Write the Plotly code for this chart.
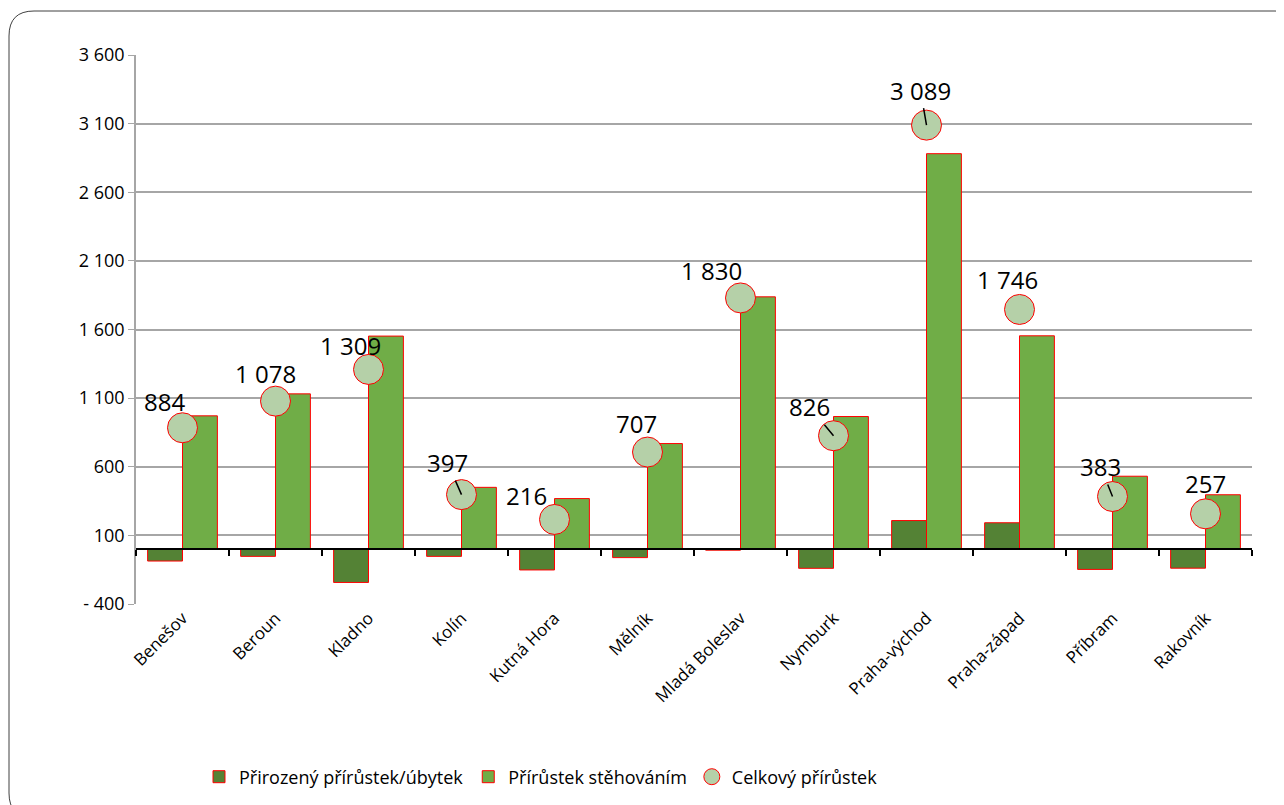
import plotly.graph_objects as go

# districts of Středočeský kraj
districts = ['Benešov', 'Beroun', 'Kladno', 'Kolín', 'Kutná Hora', 'Mělník',
             'Mladá Boleslav', 'Nymburk', 'Praha-východ', 'Praha-západ', 'Příbram', 'Rakovník']
natural = [-87, -53, -243, -53, -152, -62, -8, -140, 208, 192, -148, -139]
migration = [971, 1131, 1552, 450, 368, 769, 1838, 966, 2881, 1554, 531, 396]
total = [884, 1078, 1309, 397, 216, 707, 1830, 826, 3089, 1746, 383, 257]

y_ticks = [-400, 100, 600, 1100, 1600, 2100, 2600, 3100, 3600]
y_ticktext = ['- 400', '100', '600', '1 100', '1 600', '2 100', '2 600', '3 100', '3 600']

# label offsets (px) and which labels have a leader line
label_dx = [-18, -10, -18, -14, -28, -11, -29, -24, -6, -12, -12, 0]
label_dy = [-26, -28, -24, -32, -24, -29, -27, -29, -35, -30, -30, -30]
leader = [False, False, False, True, False, False, False, True, True, False, True, False]

FONT = 'Open Sans'
ymin, ymax = -400, 3600

fig = go.Figure()
fig.add_trace(go.Bar(x=districts, y=natural, name='Přirozený přírůstek/úbytek',
                     marker=dict(color='#548235', line=dict(color='#FF0000', width=1))))
fig.add_trace(go.Bar(x=districts, y=migration, name='Přírůstek stěhováním',
                     marker=dict(color='#70AD47', line=dict(color='#FF0000', width=1))))
fig.add_trace(go.Scatter(x=districts, y=total, name='Celkový přírůstek', mode='markers',
                         marker=dict(size=30, color='#B5D0A8', line=dict(color='#FF0000', width=1))))
# helper trace for the category axis drawn at zero
fig.add_trace(go.Scatter(x=districts, y=[0] * len(districts), xaxis='x2', mode='markers',
                         marker=dict(opacity=0), showlegend=False, hoverinfo='skip'))

for i, d in enumerate(districts):
    fig.add_annotation(x=d, y=total[i], text=f'{total[i]:,}'.replace(',', ' '),
                       showarrow=True, ax=label_dx[i], ay=label_dy[i], axref='pixel', ayref='pixel',
                       arrowhead=0, arrowwidth=1.5, standoff=0,
                       arrowcolor='black' if leader[i] else 'rgba(0,0,0,0)',
                       font=dict(family=FONT, size=24, color='black'))

# page is offset by 8px body margin
OFF = 8
L, R, T, B = 136, 1252, 55, 604
def px(x): return (x - L) / (R - L)
def py(y): return (B - y) / (B - T)
# rounded frame around the chart (runs past the right and bottom edges)
x0, x1, y0, y1, r = 9, 1300, 11, 818, 25
path = (f'M {px(x0 + r)} {py(y0)} L {px(x1 - r)} {py(y0)} Q {px(x1)} {py(y0)} {px(x1)} {py(y0 + r)} '
        f'L {px(x1)} {py(y1 - r)} Q {px(x1)} {py(y1)} {px(x1 - r)} {py(y1)} '
        f'L {px(x0 + r)} {py(y1)} Q {px(x0)} {py(y1)} {px(x0)} {py(y1 - r)} '
        f'L {px(x0)} {py(y0 + r)} Q {px(x0)} {py(y0)} {px(x0 + r)} {py(y0)} Z')
fig.add_shape(type='path', path=path, xref='paper', yref='paper',
              line=dict(color='#404040', width=1), layer='below')

fig.update_layout(
    width=1284, height=805,
    margin=dict(l=L - OFF, r=1284 + OFF - R, t=T - OFF, b=805 + OFF - B),
    paper_bgcolor='white', plot_bgcolor='white',
    barmode='group', bargap=0.25, bargroupgap=0,
    font=dict(family=FONT, size=18, color='black'),
    showlegend=True,
    legend=dict(orientation='h', x=px(541), xanchor='center', y=py(777), yanchor='middle',
                font=dict(family=FONT, size=18), itemwidth=30, traceorder='normal'),
    xaxis=dict(type='category', categoryorder='array', categoryarray=districts,
               showline=False, ticks='', tickangle=-45, showgrid=False,
               tickfont=dict(family=FONT, size=17), range=[-0.5, len(districts) - 0.5]),
    xaxis2=dict(type='category', categoryorder='array', categoryarray=districts,
                overlaying='x', anchor='free', position=(0 - ymin) / (ymax - ymin),
                range=[-0.5, len(districts) - 0.5], showticklabels=False,
                showline=True, linecolor='black', linewidth=2,
                ticks='outside', ticklen=6, tickcolor='black', tickwidth=1.5,
                tickson='boundaries', showgrid=False),
    yaxis=dict(range=[ymin, ymax], tickvals=y_ticks, ticktext=y_ticktext,
               showgrid=True, gridcolor='#A6A6A6', gridwidth=1.5, zeroline=False,
               showline=True, linecolor='#A6A6A6', linewidth=1.5,
               ticks='outside', ticklen=6, tickcolor='#A6A6A6',
               tickfont=dict(family=FONT, size=18)),
)

fig.write_html("out.html")
